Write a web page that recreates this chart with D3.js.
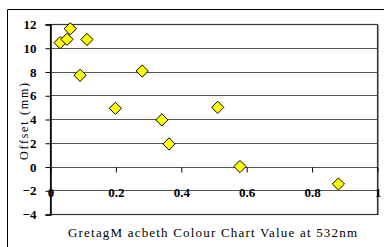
<!DOCTYPE html>
<html>
<head>
<meta charset="utf-8">
<script src="https://cdn.jsdelivr.net/npm/d3@7"></script>
<style>
  body { margin: 0; background: #fff; }
  svg { display: block; }
</style>
</head>
<body>
<div id="chart"></div>
<script>
// values
const xValues = [0.031, 0.052, 0.062, 0.113, 0.092, 0.282, 0.2, 0.342, 0.364, 0.513, 0.581, 0.882];
const yValues = [10.43, 10.71, 11.6, 10.7, 7.68, 8.04, 4.9, 3.92, 1.9, 4.98, 0.0, -1.47];
const xTicks = [0, 0.2, 0.4, 0.6, 0.8, 1];
const yTicks = [-4, -2, 0, 2, 4, 6, 8, 10, 12];
const xLabel = "GretagM acbeth Colour Chart Value at 532nm";
const yLabel = "Offset (mm)";

const width = 384, height = 247;
const marginLeft = 50, marginRight = 7, marginTop = 24, marginBottom = 33;
const serif = "Liberation Serif";

const svg = d3.select("#chart").append("svg")
  .attr("width", width).attr("height", height);

// outer frame (left and top visible, rest runs off the picture)
svg.append("path")
  .attr("d", `M7.5,${height} V9.5 H${width}`)
  .attr("fill", "none").attr("stroke", "#000").attr("stroke-width", 1);

const x = d3.scaleLinear().domain([0, 1]).range([marginLeft, width - marginRight]);
const y = d3.scaleLinear().domain([-4, 12]).range([height - marginBottom, marginTop]);

// grid lines
svg.append("g")
  .selectAll("line")
  .data(yTicks)
  .join("line")
  .attr("x1", marginLeft).attr("x2", width - marginRight)
  .attr("y1", d => Math.round(y(d)) + 0.5).attr("y2", d => Math.round(y(d)) + 0.5)
  .attr("stroke", "#555").attr("stroke-width", 1);

// plot border
svg.append("rect")
  .attr("x", marginLeft + 0.5).attr("y", Math.round(y(12)) + 0.5)
  .attr("width", x(1) - marginLeft)
  .attr("height", Math.round(y(-4)) - Math.round(y(12)))
  .attr("fill", "none").attr("stroke", "#333").attr("stroke-width", 1.2);
svg.append("line")
  .attr("x1", x(1) + 1.5).attr("x2", x(1) + 1.5)
  .attr("y1", y(12) + 1).attr("y2", y(-4) + 1)
  .attr("stroke", "#999").attr("stroke-width", 1);

// tick label styling, put straight on the text nodes
const styleTicks = g => g.selectAll(".tick text")
  .attr("font-family", serif).attr("font-size", 13).attr("font-weight", "bold").attr("fill", "#000");

// y axis
const yAxis = d3.axisLeft(y).tickValues(yTicks).tickSize(5).tickPadding(9).tickFormat(d3.format("d"));
svg.append("g")
  .attr("transform", `translate(${marginLeft + 0.5},0.5)`)
  .call(yAxis)
  .call(styleTicks)
  .call(g => g.select(".domain").attr("stroke", "#000").attr("stroke-width", 1.5))
  .call(g => g.selectAll(".tick line").attr("stroke", "#000"));

// x axis sits at y = 0, labels hang below near the -2 line
const xAxis = d3.axisBottom(x).tickValues(xTicks).tickSize(5).tickPadding(15)
  .tickFormat(d => d === 0 || d === 1 ? d3.format("d")(d) : d3.format(".1f")(d));
svg.append("g")
  .attr("transform", `translate(0.5,${Math.round(y(0)) + 0.5})`)
  .call(xAxis)
  .call(styleTicks)
  .call(g => g.select(".domain").remove())
  .call(g => g.selectAll(".tick line").attr("stroke", "#000"));

// points
const diamond = d3.symbol().type(d3.symbolDiamond2).size(95);
svg.append("g")
  .selectAll("path")
  .data(d3.zip(xValues, yValues))
  .join("path")
  .attr("transform", d => `translate(${x(d[0])},${y(d[1])})`)
  .attr("d", diamond)
  .attr("fill", "#ffff00").attr("stroke", "#000").attr("stroke-width", 1);

// titles
svg.append("text")
  .attr("x", 68)
  .attr("y", 237)
  .attr("font-family", serif).attr("font-size", 13)
  .attr("textLength", 289).attr("lengthAdjust", "spacing")
  .text(xLabel);

svg.append("text")
  .attr("transform", `translate(28,160) rotate(-90)`)
  .attr("font-family", serif).attr("font-size", 12)
  .attr("textLength", 77).attr("lengthAdjust", "spacing")
  .text(yLabel);
</script>
</body>
</html>
